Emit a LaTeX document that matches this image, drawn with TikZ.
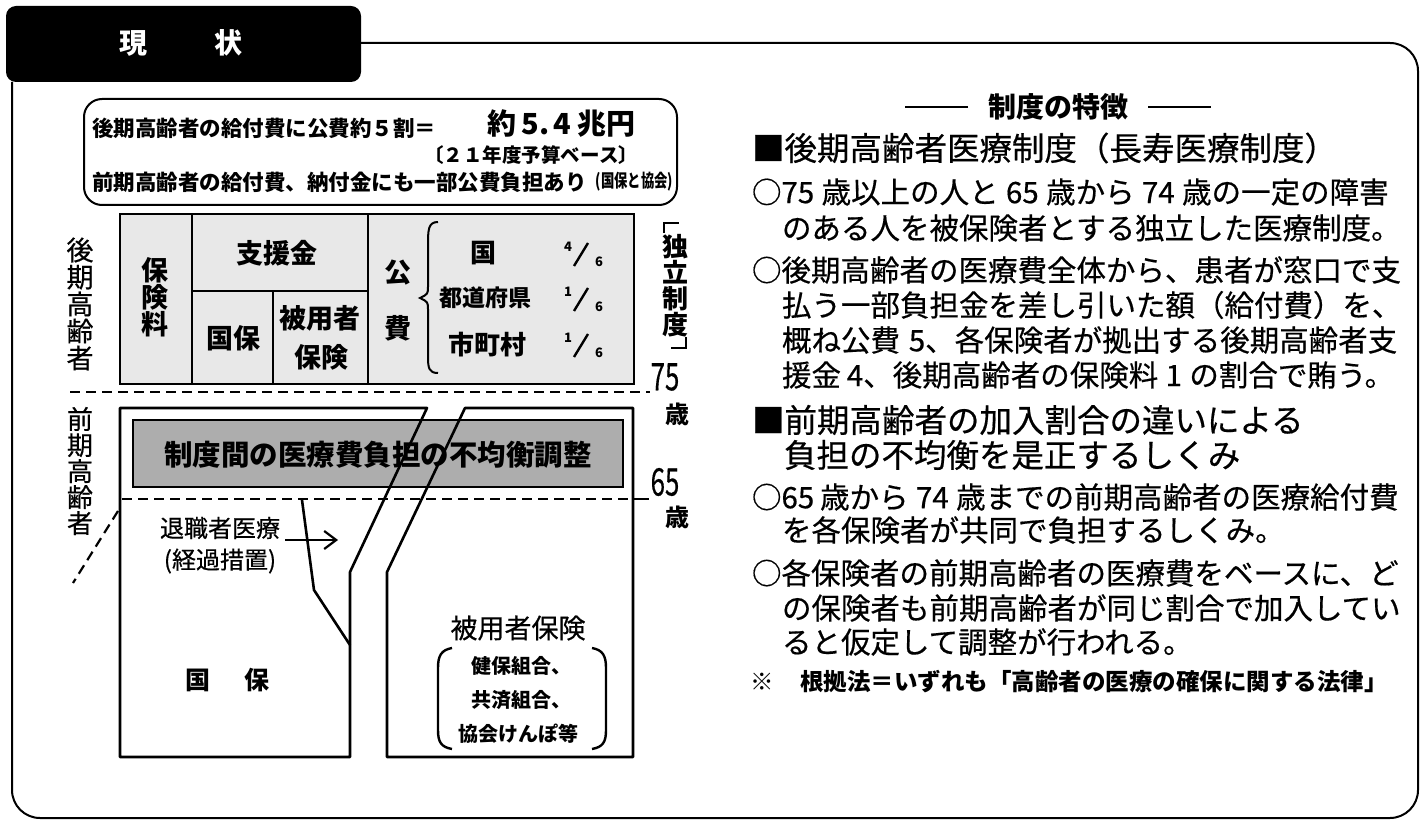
\documentclass[tikz,border=0pt]{standalone}
\usepackage{fontspec}
\setmainfont{Noto Sans CJK JP}
\newfontfamily\jpm{Noto Sans CJK JP}[FakeBold=0.5]
\usepackage{graphicx}
\usetikzlibrary{arrows.meta}
\newcommand\fsz[1]{\fontsize{#1}{#1}\selectfont}
\newcommand\dg[1]{\hspace{0.25em}#1\hspace{0.25em}}
\begin{document}
\begin{tikzpicture}[x=1pt,y=-1pt,
  lbl/.style={inner sep=0pt, outer sep=0pt},
  frame/.style={line width=2pt},
  tline/.style={line width=2.6pt},
  dline/.style={line width=2.2pt, dash pattern=on 10pt off 6pt},
  vtext/.style={lbl, align=center},
  stipple/.style={fill=black!9},
  dense/.style={fill=black!32},
  body/.style={lbl, anchor=west, font=\jpm\fsz{29.5}},
  head/.style={lbl, anchor=west, font=\jpm\fsz{32.5}},
  tb/.style={lbl, font=\fsz{27}\bfseries}]
\useasboundingbox (0,0) rectangle (1424,826);
% outer frame
\draw[frame, rounded corners=28] (360,43) -- (1418,43) -- (1418,818) -- (12,818) -- (12,82);
% tab
\fill[rounded corners=10] (6,6) rectangle (361,82);
\node[tb, text=white, font=\fsz{28}\bfseries] (tabA) at (133,43) {現};
\node[tb, text=white, font=\fsz{28}\bfseries] (tabB) at (228,43) {状};
% info box
\draw[frame, rounded corners=18] (84,99) rectangle (677,205);
\node[lbl, anchor=west, font=\fsz{21.5}\bfseries] (b1) at (92,128) {後期高齢者の給付費に公費約５割＝};
\node[lbl, anchor=west, font=\fsz{29}\bfseries] (b1v) at (487,124) {約\hspace{0.2em}5.\hspace{0.15em}4\hspace{0.2em}兆円};
\node[lbl, anchor=east, font=\fsz{19.5}\bfseries] (b2) at (638,155) {〔２１年度予算ベース〕};
\node[lbl, anchor=west, font=\fsz{21.5}\bfseries] (b3) at (92,182) {前期高齢者の給付費、納付金にも一部公費負担あり};
\node[lbl, anchor=east, font=\fsz{18}\bfseries] (b3b) at (673,182) {\scalebox{0.74}[1]{(国保と協会)}};
% upper table
\draw[tline, stipple] (120,214) rectangle (634,384);
\draw[tline] (192,214) -- (192,384);
\draw[tline] (368,214) -- (368,384);
\draw[tline] (192,291) -- (368,291);
\draw[tline] (273,291) -- (273,384);
\node[vtext, font=\fsz{27}\bfseries] (hok) at (155,297) {\fontsize{27}{28.5}\selectfont 保\\険\\料};
\node[tb] (shien) at (277,253) {支援金};
\node[tb] (kokuho1) at (233,338) {国保};
\node[tb] (hiyo1) at (320,318) {被用者};
\node[tb] (hiyo2) at (321,357) {保険};
\node[tb] (ko) at (398,273) {公};
\node[tb] (hi) at (398,328) {費};
\draw[line width=2pt] (438,222) .. controls (428,222) and (428,230) .. (428,246) -- (428,286) .. controls (428,294) .. (420,298) .. controls (428,302) .. (428,310) -- (428,357) .. controls (428,368) and (429,373) .. (438,373);
\node[tb, font=\fsz{26}\bfseries] (kuni) at (483,253) {国};
\node[tb, font=\fsz{23}\bfseries] (todo) at (485,298) {都道府県};
\node[tb, font=\fsz{26}\bfseries] (shi) at (487,345) {市町村};
\foreach \n/\yy in {4/247,1/292,1/338}{
  \node[lbl, font=\fsz{13}\bfseries] at (568,\yy) {\n};
  \draw[line width=2.4pt] (574,\yy+19) -- (588,\yy-4);
  \node[lbl, font=\fsz{13}\bfseries] at (599,\yy+15) {6};
}
% independent system label
\node[vtext, font=\fsz{26}\bfseries] (dok) at (675,286) {\fontsize{26}{28.5}\selectfont 独\\立\\制\\度};
\draw[line width=1.8pt] (664,233) -- (664,223) -- (679,223);
\draw[line width=1.8pt] (671,348) -- (686,348) -- (686,337);
% labels left
\node[vtext, font=\jpm\fsz{27}] (kouki) at (80,304) {\fontsize{27}{28.2}\selectfont 後\\期\\高\\齢\\者};
\node[vtext, font=\jpm\fsz{26}] (zenki) at (80,471) {\fontsize{26}{27}\selectfont 前\\期\\高\\齢\\者};
% 75 line
\coordinate (d75a) at (70,392);
\coordinate (d75b) at (650,392);
\draw[dline] (d75a) -- (d75b);
\node[lbl, font=\jpm\fsz{38}] (n75) at (665,377) {\scalebox{0.68}[1]{75}};
\node[lbl, font=\fsz{24}\bfseries] (s75) at (677,414) {歳};
% lower area
\draw[dense, line width=2.2pt] (133,420) rectangle (623,487);
\node[lbl, font=\fsz{28.5}\bfseries] (band) at (378,455) {制度間の医療費負担の不均衡調整};
\coordinate (kA) at (427,408);
\coordinate (kB) at (350,572);
\coordinate (hA) at (465,408);
\coordinate (hB) at (387,572);
\draw[tline, line join=round] (kA) -- (120,408) -- (120,757) -- (350,757) -- (kB) -- cycle;
\draw[tline, line join=round] (hA) -- (633,408) -- (633,757) -- (387,757) -- (hB) -- cycle;
% 65 line
\coordinate (d65a) at (122,499);
\coordinate (d65b) at (633,499);
\draw[dline] (d65a) -- (d65b);
\draw[line width=2pt] (d65b) -- (649,499);
\node[lbl, font=\jpm\fsz{38}] (n65) at (665,482) {\scalebox{0.68}[1]{65}};
\node[lbl, font=\fsz{24}\bfseries] (s65) at (677,517) {歳};
\draw[dline] (118,511) -- (73,583);
% retiree line
\coordinate (r1) at (302,500);
\coordinate (r2) at (314,590);
\coordinate (r3) at (350,645);
\draw[tline, line join=round] (r1) -- (r2) -- (r3);
\node[lbl, font=\jpm\fsz{24}] (tai) at (220,528) {退職者医療};
\node[lbl, font=\jpm\fsz{24}] (keika) at (220,561) {(経過措置)};
\coordinate (arS) at (285,540);
\coordinate (arE) at (338,540);
\draw[line width=2.2pt, -{Straight Barb[length=12pt,width=18pt,line width=2.2pt]}] (arS) -- (arE);
% lower box texts
\node[lbl, font=\fsz{25}\bfseries] (kok) at (198,680) {国};
\node[lbl, font=\fsz{25}\bfseries] (ho) at (257,680) {保};
\node[lbl, font=\jpm\fsz{27}] (hiyoL) at (518,628) {被用者保険};
\node[lbl, font=\fsz{20}\bfseries] (k1) at (521,666) {健保組合、};
\node[lbl, font=\fsz{20}\bfseries] (k2) at (521,700) {共済組合、};
\node[lbl, font=\fsz{20}\bfseries] (k3) at (518,734) {協会けんぽ等};
\draw[line width=2.4pt] (452,648) .. controls (441,650) and (438,656) .. (438,668) -- (438,730) .. controls (438,742) and (441,747) .. (452,749);
\draw[line width=2.4pt] (592,648) .. controls (603,650) and (606,656) .. (606,668) -- (606,730) .. controls (606,742) and (603,747) .. (592,749);
% right panel
\node[lbl, font=\fsz{28}\bfseries] (ttl) at (1058,107) {制度の特徴};
\draw[line width=1.8pt] (ttl.west) ++(-20,0) -- ++(-63,0);
\draw[line width=1.8pt] (ttl.east) ++(20,0) -- ++(63,0);
\node[head] (h1) at (752,148) {■後期高齢者医療制度（長寿医療制度）};
\node[body] (p1a) at (752,192) {○75\hspace{0.25em}歳以上の人と\dg{65}歳から\dg{74}歳の一定の障害};
\node[body] (p1b) at (782,228) {のある人を被保険者とする独立した医療制度。};
\node[body] (p2a) at (752,270) {○後期高齢者の医療費全体から、患者が窓口で支};
\node[body] (p2b) at (782,305) {払う一部負担金を差し引いた額（給付費）を、};
\node[body] (p2c) at (782,340) {概ね公費\hspace{0.3em}5、各保険者が拠出する後期高齢者支};
\node[body] (p2d) at (782,375) {援金\hspace{0.2em}4、後期高齢者の保険料\dg{1}の割合で賄う。};
\node[head] (h2a) at (752,420) {■前期高齢者の加入割合の違いによる};
\node[head] (h2b) at (784,455) {負担の不均衡を是正するしくみ};
\node[body] (p3a) at (752,497) {○65\hspace{0.2em}歳から\dg{74}歳までの前期高齢者の医療給付費};
\node[body] (p3b) at (782,530) {を各保険者が共同で負担するしくみ。};
\node[body] (p4a) at (752,573) {○各保険者の前期高齢者の医療費をベースに、ど};
\node[body] (p4b) at (782,608) {の保険者も前期高齢者が同じ割合で加入してい};
\node[body] (p4c) at (782,642) {ると仮定して調整が行われる。};
\node[lbl, font=\fsz{23.5}\bfseries] (kome) at (762,682) {※};
\node[lbl, anchor=west, font=\fsz{23.5}\bfseries] (note) at (800,682) {根拠法＝いずれも「高齢者の医療の確保に関する法律」};
\end{tikzpicture}
\end{document}
